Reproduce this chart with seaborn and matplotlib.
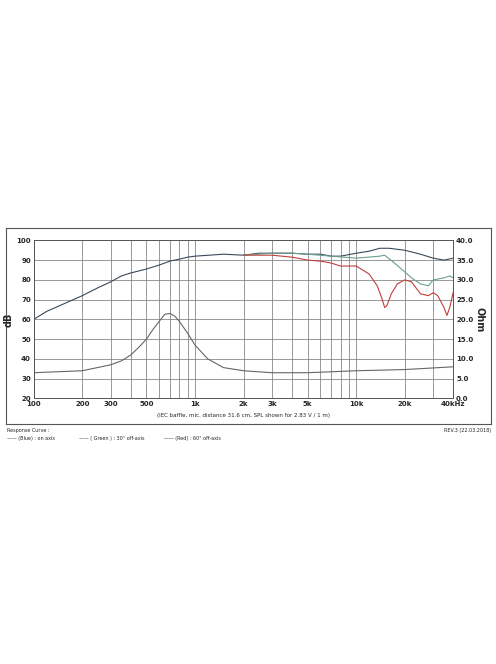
import numpy as np
import seaborn as sns
import matplotlib.pyplot as plt
from matplotlib.ticker import FixedLocator, NullFormatter

sns.set_style("white")
plt.rcParams['font.family'] = ['DejaVu Sans']

f_on = [100, 120, 150, 200, 250, 300, 350, 400, 500, 600, 700, 800, 900, 1000, 1500, 2000,
        2500, 3000, 4000, 5000, 6000, 7000, 8000, 10000, 12000, 14000, 16000, 20000, 25000,
        30000, 35000, 40000]
db_on = [60, 64, 67.5, 72, 76, 79, 82, 83.5, 85.5, 87.5, 89.5, 90.5, 91.5, 92, 93, 92.5,
         93.5, 93.5, 93.5, 93, 93, 92, 92, 93.5, 94.5, 96, 96, 95, 93, 91, 90, 91]
f_30 = [2000, 3000, 4000, 5000, 7000, 10000, 14000, 15000, 17000, 20000, 22000, 25000,
        28000, 30000, 35000, 38000, 40000]
db_30 = [92.5, 93.5, 93.5, 93, 92, 91, 92, 92.5, 89, 84, 81, 78, 77, 80, 81, 82, 81]
f_60 = [2000, 3000, 4000, 5000, 6000, 7000, 8000, 10000, 12000, 13500, 14500, 15000, 15500,
        16500, 18000, 20000, 22000, 25000, 28000, 30000, 32000, 35000, 36500, 38000, 40000]
db_60 = [92.5, 92.5, 91.5, 90, 89.5, 88.5, 87, 87, 83, 77, 70, 66, 67, 73, 78, 80, 79, 73,
         72, 73.5, 72, 66, 62, 66, 74]
f_imp = [100, 200, 300, 350, 400, 450, 500, 550, 600, 650, 700, 750, 800, 900, 1000, 1200,
         1500, 2000, 3000, 5000, 10000, 20000, 40000]
ohm = [6.5, 7, 8.5, 9.5, 11, 13, 15, 17.5, 19.5, 21.3, 21.5, 20.8, 19.5, 16.5, 13.5, 10,
       7.8, 7, 6.5, 6.5, 7, 7.3, 8]

fig = plt.figure(figsize=(4.96, 6.64), dpi=100)
frame = fig.add_axes([0.012, 0.362, 0.978, 0.295])
frame.set_xticks([]); frame.set_yticks([])
for s in frame.spines.values():
    s.set_color('#555555'); s.set_linewidth(0.8)
frame.patch.set_alpha(0)

ax = fig.add_axes([0.068, 0.40, 0.846, 0.238])
ax.set_xscale('log')
ax.set_xlim(100, 40000)
ax.set_ylim(20, 100)
sns.lineplot(x=f_on, y=db_on, ax=ax, color='#3a4a5a', lw=0.8)
sns.lineplot(x=f_30, y=db_30, ax=ax, color='#6aa090', lw=0.8)
sns.lineplot(x=f_60, y=db_60, ax=ax, color='#c0403a', lw=0.8)
ax2 = ax.twinx()
ax2.set_ylim(0, 40)
sns.lineplot(x=f_imp, y=ohm, ax=ax2, color='#666666', lw=0.8)
ax2.set_xlim(100, 40000)

major = [100, 200, 300, 500, 1000, 2000, 3000, 5000, 10000, 20000, 40000]
labels = ['100', '200', '300', '500', '1k', '2k', '3k', '5k', '10k', '20k', '40kHz']
minor = [m * d for d in [100, 1000, 10000] for m in range(1, 10)] + [40000]
ax.xaxis.set_major_locator(FixedLocator(major))
ax.set_xticklabels(labels, fontsize=5, fontweight='bold')
ax.xaxis.set_minor_locator(FixedLocator(minor))
ax.xaxis.set_minor_formatter(NullFormatter())
ax.set_yticks(range(20, 101, 10))
ax.set_yticklabels([str(v) for v in range(20, 101, 10)], fontsize=5, fontweight='bold')
ax2.set_yticks(range(0, 41, 5))
ax2.set_yticklabels([f'{v:.1f}' for v in range(0, 41, 5)], fontsize=5, fontweight='bold')
ax.tick_params(length=0, pad=2)
ax2.tick_params(length=0, pad=2)
ax.grid(True, which='both', color='#888888', lw=0.6)
for s in list(ax.spines.values()) + list(ax2.spines.values()):
    s.set_color('#555555'); s.set_linewidth(0.6)
ax.set_xlabel('(IEC baffle, mic. distance 31.6 cm, SPL shown for 2.83 V / 1 m)', fontsize=4, labelpad=4)
ax.set_ylabel('dB', fontsize=7, fontweight='bold', labelpad=2)
ax2.set_ylabel('Ohm', fontsize=7, fontweight='bold', rotation=270, labelpad=8)

fig.text(0.015, 0.349, 'Response Curve :', fontsize=3.5)
fig.text(0.015, 0.338, '—— (Blue) : on axis', fontsize=3.5)
fig.text(0.16, 0.338, '—— ( Green ) : 30° off-axis', fontsize=3.5)
fig.text(0.33, 0.338, '—— (Red) : 60° off-axis', fontsize=3.5)
fig.text(0.99, 0.349, 'REV.3 (22.03.2018)', fontsize=3.5, ha='right')

fig.savefig('out.png', dpi=100)
